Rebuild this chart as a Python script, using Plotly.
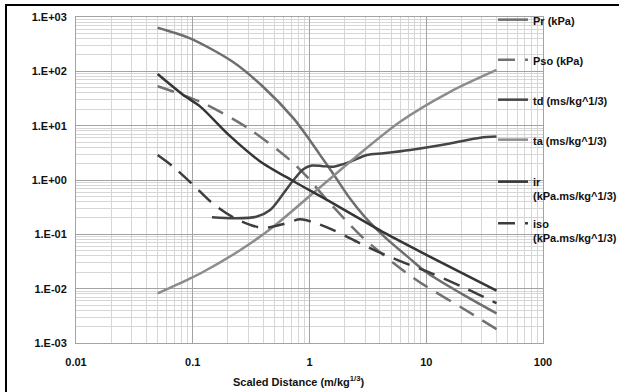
import plotly.graph_objects as go

# ---------------- data ----------------
pr_x = [0.05, 0.095, 0.22, 0.40, 0.73, 1.0, 1.23, 1.6, 2.23, 3.0, 4.44, 7.0, 10, 20, 40]
pr_y = [635, 405, 150, 52, 13.6, 5.5, 2.9, 1.29, 0.45, 0.205, 0.088, 0.038, 0.020, 0.0081, 0.0035]

pso_x = [0.05, 0.116, 0.30, 0.68, 0.95, 1.41, 2.23, 2.9, 5.2, 7.7, 10, 20, 40]
pso_y = [53, 27.5, 8.9, 2.33, 1.15, 0.43, 0.149, 0.085, 0.030, 0.016, 0.011, 0.0045, 0.0018]

td_x = [0.146, 0.23, 0.35, 0.46, 0.60, 0.73, 0.89, 1.05, 1.3, 1.6, 2.23, 3.1, 4.3, 7.3, 16, 29, 40]
td_y = [0.206, 0.197, 0.21, 0.28, 0.57, 1.0, 1.6, 1.85, 1.8, 1.76, 2.17, 2.88, 3.1, 3.56, 4.7, 6.0, 6.3]

ta_x = [0.05, 0.089, 0.116, 0.254, 0.49, 1.07, 1.3, 2.23, 5.97, 16, 40]
ta_y = [0.0082, 0.0144, 0.019, 0.051, 0.138, 0.57, 0.81, 2.17, 11.8, 42, 106]

ir_x = [0.05, 0.083, 0.116, 0.209, 0.378, 0.73, 1.41, 4.44, 10, 40]
ir_y = [89, 36.6, 22.4, 6.4, 2.2, 0.95, 0.43, 0.105, 0.042, 0.0092]

iso_x = [0.05, 0.068, 0.101, 0.146, 0.23, 0.365, 0.44, 0.60, 0.83, 1.05, 1.6, 2.72, 4.44, 7.3, 10, 20, 40]
iso_y = [2.88, 1.76, 0.81, 0.38, 0.197, 0.135, 0.133, 0.155, 0.189, 0.17, 0.12, 0.068, 0.042, 0.027, 0.021, 0.011, 0.0054]

x_tick_vals = [0.01, 0.1, 1, 10, 100]
x_tick_text = ["0.01", "0.1", "1", "10", "100"]
y_tick_vals = [1e-3, 1e-2, 1e-1, 1e0, 1e1, 1e2, 1e3]
y_tick_text = ["1.E-03", "1.E-02", "1.E-01", "1.E+00", "1.E+01", "1.E+02", "1.E+03"]
x_title = "Scaled Distance (m/kg<sup>1/3</sup>)"

series = [
    ("Pr (kPa)", pr_x, pr_y, "#6e6e6e", "solid", "legend"),
    ("Pso (kPa)", pso_x, pso_y, "#727272", "17px,10px", "legend"),
    ("td (ms/kg^1/3)", td_x, td_y, "#454545", "solid", "legend"),
    ("ta (ms/kg^1/3)", ta_x, ta_y, "#8c8c8c", "solid", "legend"),
    ("ir<br>(kPa.ms/kg^1/3)", ir_x, ir_y, "#353535", "solid", "legend2"),
    ("iso<br>(kPa.ms/kg^1/3)", iso_x, iso_y, "#3d3d3d", "17px,10px", "legend2"),
]

FONT = "Liberation Sans, Arial, sans-serif"

fig = go.Figure()
for i, (name, xs, ys, col, dash, lg) in enumerate(series):
    fig.add_trace(go.Scatter(
        x=xs, y=ys, name=name, mode="lines",
        line=dict(color=col, width=2.5, dash=dash, shape="spline", smoothing=0.8),
        legend=lg, legendgroup=f"g{i}",
    ))

def minor_vals(lo, hi):
    out = []
    for d in range(lo, hi):
        for k in range(2, 10):
            out.append(k * 10.0 ** d)
    return out

W, H = 619, 392
L, R, T, B = 76, 76, 17, 49
pw, ph = W - L - R, H - T - B

def px2paper_x(px):
    return (px - L) / pw

def px2paper_y(py):
    return (H - B - py) / ph

major = "#a3a3a3"
minor = "#d6d6d6"

fig.update_xaxes(
    type="log", range=[-2, 2],
    tickmode="array", tickvals=x_tick_vals, ticktext=x_tick_text,
    showgrid=True, gridcolor=major, gridwidth=1,
    minor=dict(tickmode="array", tickvals=minor_vals(-2, 2), showgrid=True,
               gridcolor=minor, gridwidth=1, ticks=""),
    showline=True, linecolor=major, linewidth=1, mirror=True,
    ticks="", ticklabelstandoff=9, zeroline=False,
    tickfont=dict(family=FONT, size=11, color="#111111", weight="bold"),
)
fig.update_yaxes(
    type="log", range=[-3, 3],
    tickmode="array", tickvals=y_tick_vals, ticktext=y_tick_text,
    showgrid=True, gridcolor=major, gridwidth=1,
    minor=dict(tickmode="array", tickvals=minor_vals(-3, 3), showgrid=True,
               gridcolor=minor, gridwidth=1, ticks=""),
    showline=True, linecolor=major, linewidth=1, mirror=True,
    ticks="", ticklabelstandoff=6, zeroline=False,
    tickfont=dict(family=FONT, size=11, color="#111111", weight="bold"),
)

legend_font = dict(family=FONT, size=11, color="#111111", weight="bold")
fig.update_layout(
    width=W, height=H,
    margin=dict(l=L, r=R, t=T, b=B, pad=0, autoexpand=False),
    paper_bgcolor="white", plot_bgcolor="white",
    showlegend=True,
    legend=dict(x=px2paper_x(493), xanchor="left", y=px2paper_y(6), yanchor="top",
                bgcolor="rgba(0,0,0,0)", borderwidth=0, font=legend_font,
                tracegroupgap=21, valign="top", traceorder="grouped"),
    legend2=dict(x=px2paper_x(493), xanchor="left", y=px2paper_y(168), yanchor="top",
                 bgcolor="rgba(0,0,0,0)", borderwidth=0, font=legend_font,
                 tracegroupgap=10, valign="top", traceorder="grouped"),
    annotations=[
        dict(text=x_title, xref="paper", yref="paper",
             x=px2paper_x(298), y=px2paper_y(381), xanchor="center", yanchor="middle",
             showarrow=False, font=dict(family=FONT, size=11, color="#111111", weight="bold")),
    ],
    shapes=[
        # white box behind the legend (covers the grid)
        dict(type="rect", xref="paper", yref="paper",
             x0=px2paper_x(505), x1=1.02, y0=px2paper_y(248), y1=px2paper_y(8),
             fillcolor="white", line=dict(width=0), layer="between"),
        # outer chart frame
        dict(type="rect", xref="paper", yref="paper",
             x0=px2paper_x(6), x1=px2paper_x(W + 20), y0=px2paper_y(H + 20), y1=px2paper_y(5),
             fillcolor="rgba(0,0,0,0)", line=dict(color="black", width=2), layer="above"),
    ],
)

fig.write_html("out.html")
